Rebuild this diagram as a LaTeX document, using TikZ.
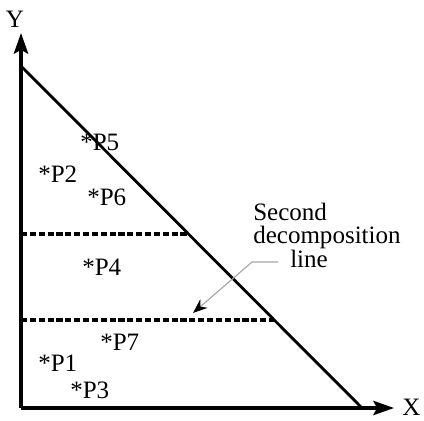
\documentclass[tikz,border=0pt]{standalone}
\usepackage{fontspec}
\setmainfont{Liberation Serif}
\usetikzlibrary{arrows.meta}

\tikzset{
    axis/.style={line width=2.2pt, -{Stealth[length=5.2mm, width=3.6mm, inset=1mm]}},
    hyp/.style={line width=2pt},
    decomp/.style={line width=2.4pt, dash pattern=on 4.4pt off 1.9pt},
    leader/.style={gray!70, line width=0.8pt, -{Stealth[black, length=3.6mm, width=2.8mm]}},
    pt/.style={anchor=base west, inner sep=0pt},
    lbl/.style={anchor=base west, inner sep=0pt}
}

\begin{document}
\begin{tikzpicture}[x=0.25cm, y=0.25cm, font=\fontsize{17.8}{16.3}\selectfont]

    \useasboundingbox (-2.1, -1.2) rectangle (40.3, 40.8);

    % Axes
    \coordinate (O) at (0, 0);
    \coordinate (ytip) at (0, 37.5);
    \coordinate (xtip) at (37.3, 0);
    \draw[axis] (O) -- (ytip);
    \draw[axis] (O) -- (xtip);
    \node[anchor=base] (ylab) at (-0.6, 38.0) {Y};
    \node[lbl] (xlab) at (38.1, -0.7) {X};

    % Triangle edge
    \coordinate (top) at (0, 34.2);
    \coordinate (bot) at (34.1, 0);
    \draw[hyp] (top) -- (bot);

    % Decomposition lines
    \draw[decomp] (0, 17.4) -- (16.75, 17.4);
    \draw[decomp] (0, 8.8) -- (25.3, 8.8);

    % Points
    \foreach \px/\py/\k in {5.9/25.8/5, 1.7/22.6/2, 6.6/20.3/6, 6.1/13.3/4,
                            7.9/5.8/7, 1.7/3.7/1, 4.9/1.0/3} {
        \node[pt] (p\k) at (\px, \py) {*P\k};
    }

    % Annotation
    \node[lbl] (sec) at (23.2, 18.8) {Second};
    \node[lbl] (dec) at (23.2, 16.5) {decomposition};
    \node[lbl] (lin) at (26.9, 14.1) {line};
    \coordinate (lead) at (25.7, 14.6);
    \coordinate (knee) at (23.1, 14.6);
    \coordinate (tip) at (17.2, 9.5);
    \draw[leader] (lead) -- (knee) -- (tip);

\end{tikzpicture}
\end{document}
